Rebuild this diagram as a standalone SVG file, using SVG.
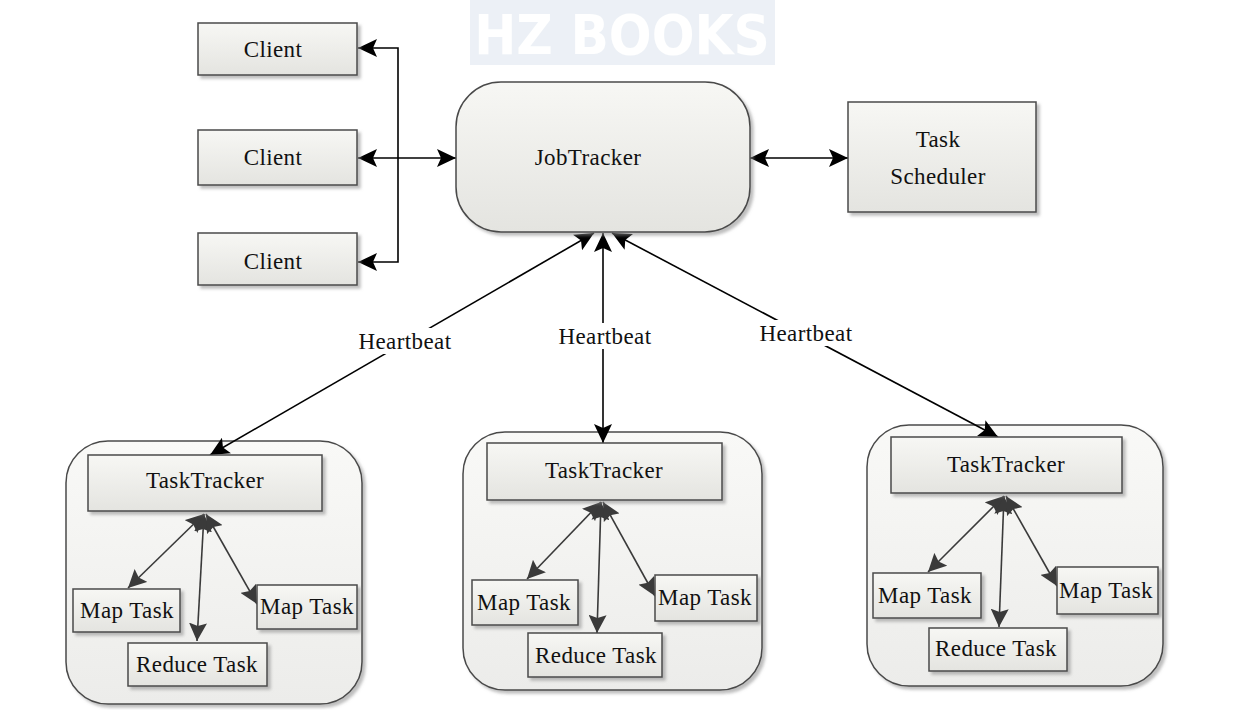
<svg xmlns="http://www.w3.org/2000/svg" width="1244" height="710" viewBox="0 0 1244 710">
<defs>
<linearGradient id="gBox" x1="0" y1="0" x2="0" y2="1">
<stop offset="0" stop-color="#f7f7f4"/>
<stop offset="1" stop-color="#e4e4e0"/>
</linearGradient>
<linearGradient id="gCont" x1="0" y1="0" x2="0" y2="1">
<stop offset="0" stop-color="#f9f9f7"/>
<stop offset="1" stop-color="#ececea"/>
</linearGradient>
<filter id="sh" x="-10%" y="-10%" width="125%" height="130%">
<feDropShadow dx="3" dy="3" stdDeviation="1.5" flood-color="#888" flood-opacity="0.55"/>
</filter>
<marker id="ab" markerUnits="userSpaceOnUse" markerWidth="20" markerHeight="18" refX="19" refY="9" orient="auto-start-reverse" viewBox="0 0 20 18">
<path d="M0,0 L19,9 L0,18 L4,9 Z" fill="#000"/>
</marker>
<marker id="ag" markerUnits="userSpaceOnUse" markerWidth="20" markerHeight="18" refX="18" refY="9" orient="auto-start-reverse" viewBox="0 0 20 18">
<path d="M0,0 L18,9 L0,18 L3,9 Z" fill="#3a3a3a"/>
</marker>
<style>
.box{fill:url(#gBox);stroke:#4a4a4a;stroke-width:1.5;filter:url(#sh)}
.cont{fill:url(#gCont);stroke:#4a4a4a;stroke-width:1.5;filter:url(#sh)}
.t{font-family:"Liberation Serif","Times New Roman",serif;font-size:23px;letter-spacing:0.4px;fill:#111;text-anchor:middle}
.c{fill:none;stroke:#000;stroke-width:1.6;marker-start:url(#ab);marker-end:url(#ab)}
.ci{fill:none;stroke:#3a3a3a;stroke-width:1.6;marker-start:url(#ag);marker-end:url(#ag)}
.lbl{fill:#fff}
</style>
</defs>
<rect width="1244" height="710" fill="#fff"/>
<g id="watermark" opacity="0.45">
<rect x="470" y="0" width="305" height="65" fill="#d6e0ec"/>
<text x="622" y="54" font-family="'DejaVu Sans Condensed','Liberation Sans Narrow','Liberation Sans',sans-serif" font-weight="bold" font-size="56" fill="#fff" text-anchor="middle">HZ BOOKS</text>
</g>
<g id="container-left"><rect class="cont" x="66" y="441" width="296" height="263" rx="42"/></g>
<g id="container-mid"><rect class="cont" x="463" y="432" width="299" height="258" rx="42"/></g>
<g id="container-right"><rect class="cont" x="867" y="425" width="296" height="261" rx="42"/></g>
<g id="connectors">
<path class="c" d="M358,48 H398 V262 H358"/>
<path class="c" d="M358,158 H456"/>
<path class="c" d="M750,158 H848"/>
<path class="c" d="M594,233 L210,455"/>
<path class="c" d="M603,233 L603,443"/>
<path class="c" d="M612,233 L998,437"/>
<rect class="lbl" x="354" y="328" width="102" height="26"/>
<rect class="lbl" x="554" y="323" width="102" height="26"/>
<rect class="lbl" x="755" y="320" width="102" height="26"/>
<text class="t" x="405" y="349">Heartbeat</text>
<text class="t" x="605" y="344">Heartbeat</text>
<text class="t" x="806" y="341">Heartbeat</text>
<path class="ci" d="M204,514 L128,588"/>
<path class="ci" d="M204,514 L197,641"/>
<path class="ci" d="M206,514 L257,604"/>
<path class="ci" d="M601,502 L527,579"/>
<path class="ci" d="M601,502 L597,633"/>
<path class="ci" d="M603,502 L655,596"/>
<path class="ci" d="M1004,496 L928,572"/>
<path class="ci" d="M1004,496 L999,627"/>
<path class="ci" d="M1006,496 L1057,586"/>
</g>
<g id="client1"><rect class="box" x="198" y="23" width="159" height="52"/><text class="t" x="273" y="57">Client</text></g>
<g id="client2"><rect class="box" x="198" y="130" width="159" height="55"/><text class="t" x="273" y="165">Client</text></g>
<g id="client3"><rect class="box" x="198" y="233" width="159" height="52"/><text class="t" x="273" y="269">Client</text></g>
<g id="jobtracker"><rect class="box" x="456" y="82" width="294" height="150" rx="45"/><text class="t" x="588" y="165">JobTracker</text></g>
<g id="scheduler"><rect class="box" x="848" y="102" width="188" height="110"/><text class="t" x="938" y="147">Task</text><text class="t" x="938" y="184">Scheduler</text></g>
<g id="tt-left"><rect class="box" x="88" y="455" width="234" height="56"/><text class="t" x="205" y="488">TaskTracker</text></g>
<g id="map-left-1"><rect class="box" x="73" y="589" width="107" height="43"/><text class="t" x="127" y="618">Map Task</text></g>
<g id="reduce-left"><rect class="box" x="128" y="643" width="139" height="43"/><text class="t" x="197" y="672">Reduce Task</text></g>
<g id="map-left-2"><rect class="box" x="257" y="585" width="100" height="44"/><text class="t" x="307" y="614">Map Task</text></g>
<g id="tt-mid"><rect class="box" x="487" y="443" width="235" height="57"/><text class="t" x="604" y="478">TaskTracker</text></g>
<g id="map-mid-1"><rect class="box" x="472" y="580" width="106" height="45"/><text class="t" x="524" y="610">Map Task</text></g>
<g id="reduce-mid"><rect class="box" x="528" y="633" width="134" height="44"/><text class="t" x="596" y="663">Reduce Task</text></g>
<g id="map-mid-2"><rect class="box" x="655" y="575" width="102" height="46"/><text class="t" x="705" y="605">Map Task</text></g>
<g id="tt-right"><rect class="box" x="891" y="437" width="231" height="56"/><text class="t" x="1006" y="472">TaskTracker</text></g>
<g id="map-right-1"><rect class="box" x="873" y="573" width="108" height="45"/><text class="t" x="925" y="603">Map Task</text></g>
<g id="reduce-right"><rect class="box" x="929" y="628" width="138" height="43"/><text class="t" x="996" y="656">Reduce Task</text></g>
<g id="map-right-2"><rect class="box" x="1057" y="567" width="101" height="47"/><text class="t" x="1106" y="598">Map Task</text></g>
</svg>
